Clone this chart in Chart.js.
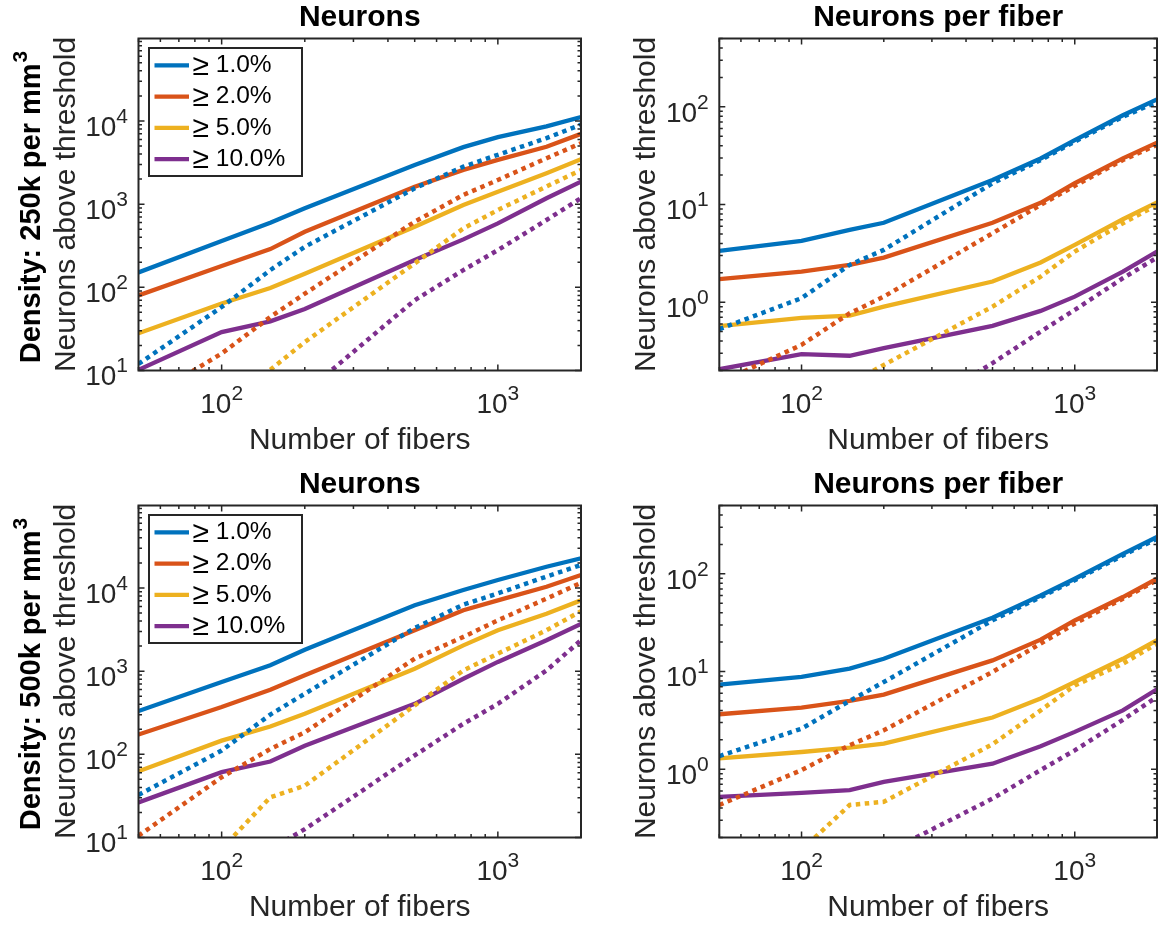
<!DOCTYPE html>
<html>
<head>
<meta charset="utf-8">
<title>Neurons above threshold</title>
<script src="https://cdn.jsdelivr.net/npm/chart.js@4.4.0/dist/chart.umd.min.js"></script>
<style>
  html, body { margin: 0; padding: 0; background: #fff; overflow: hidden; }
  #wrap { position: relative; width: 1160px; height: 926px; }
  #wrap canvas { position: absolute; }
  .density {
    position: absolute;
    transform: translate(-50%, -50%) rotate(-90deg);
    font: bold 29px 'Liberation Sans', Arial, Helvetica, sans-serif;
    line-height: 1;
    white-space: nowrap;
    color: #000;
  }
  .density sup { font-size: 0.72em; position: relative; top: -0.62em; vertical-align: baseline; margin-left: 1px; }
</style>
</head>
<body>
<div id="wrap">
  <canvas id="n250" width="590" height="467" style="left:0;top:0"></canvas>
  <canvas id="pf250" width="570" height="467" style="left:590px;top:0"></canvas>
  <canvas id="n500" width="590" height="459" style="left:0;top:467px"></canvas>
  <canvas id="pf500" width="570" height="459" style="left:590px;top:467px"></canvas>
  <div class="density" style="left:30px;top:207px">Density: 250k per mm<sup>3</sup></div>
  <div class="density" style="left:30px;top:674px">Density: 500k per mm<sup>3</sup></div>
</div>

<script>
const FONT = "'Liberation Sans', Arial, Helvetica, sans-serif";

// --- Data ---
const fibers = [50, 100, 150, 200, 500, 750, 1000, 1500, 2000];
const thresholds = ['\u2265 1.0%', '\u2265 2.0%', '\u2265 5.0%', '\u2265 10.0%'];
const colors = ['#0072BD', '#D95319', '#EDB120', '#7E2F8E'];

// density 250k per mm^3 -- neurons
const neurons250Solid = [
  [151, 360, 598, 890, 2960, 4840, 6400, 8600, 11150],
  [80, 180, 288, 466, 1620, 2580, 3400, 4900, 7000],
  [28, 64, 98, 146, 536, 977, 1410, 2356, 3470],
  [10.2, 29, 39, 55, 213, 377, 587, 1176, 1860]
];
const neurons250Dotted = [
  [12, 58, 161, 307, 1550, 2820, 3920, 6220, 9020],
  [4, 16, 44, 84, 615, 1290, 1950, 3560, 5400],
  [null, null, 10.2, 22, 194, 510, 850, 1630, 2570],
  [null, null, null, 5.4, 70, 161, 280, 645, 1180]
];
// density 250k per mm^3 -- neurons per fiber
const perFiber250Solid = [
  [3.35, 4.24, 5.5, 6.5, 17.8, 29.6, 45.7, 82, 119],
  [1.72, 2.06, 2.41, 2.86, 6.5, 10.4, 16.5, 29.7, 43],
  [0.57, 0.69, 0.73, 0.9, 1.63, 2.55, 3.86, 7.06, 10.5],
  [0.206, 0.294, 0.283, 0.339, 0.573, 0.815, 1.14, 2.06, 3.3]
];
const perFiber250Dotted = [
  [0.53, 1.1, 2.41, 3.43, 16.5, 28.5, 44, 79, 112],
  [0.15, 0.366, 0.77, 1.14, 5.08, 9.9, 15.5, 28.5, 40.7],
  [null, null, 0.146, 0.228, 0.9, 1.83, 3.3, 6.43, 9.9],
  [null, null, null, 0.05, 0.238, 0.5, 0.835, 1.76, 2.86]
];
// density 500k per mm^3 -- neurons
const neurons500Solid = [
  [331, 740, 1175, 1810, 6200, 9440, 12450, 18000, 22700],
  [173, 370, 598, 890, 3100, 5400, 7100, 10350, 14300],
  [62.5, 146, 216, 308, 1070, 2040, 3100, 4900, 7100],
  [26.4, 61, 82, 127, 404, 810, 1290, 2350, 3700]
];
const neurons500Dotted = [
  [32.5, 111, 300, 535, 3300, 6300, 8600, 13700, 18900],
  [10.5, 53, 116, 184, 1410, 2580, 4080, 7450, 11500],
  [null, 7.3, 30.4, 42, 387, 1020, 1620, 3100, 5260],
  [null, null, 7.2, 12.6, 97, 233, 404, 1020, 2350]
];
// density 500k per mm^3 -- neurons per fiber
const perFiber500Solid = [
  [7.34, 8.8, 10.7, 13.5, 35.5, 60, 89, 160, 238],
  [3.65, 4.27, 5.0, 5.8, 13.0, 21.2, 33.3, 57.8, 89],
  [1.29, 1.5, 1.66, 1.83, 3.38, 5.3, 7.8, 13.5, 20.9],
  [0.52, 0.573, 0.61, 0.742, 1.14, 1.72, 2.41, 4.0, 6.58]
];
const perFiber500Dotted = [
  [1.36, 2.6, 5.0, 7.8, 33.4, 57.8, 86, 154, 229],
  [0.43, 0.98, 1.76, 2.5, 9.9, 19.3, 30.9, 55.6, 86],
  [null, 0.149, 0.43, 0.464, 1.8, 4.0, 7.2, 12.0, 19.3],
  [null, null, null, 0.136, 0.5, 0.98, 1.56, 3.2, 5.5]
];

const neuronRange = [10, 98000];
const perFiberRange = [0.2, 500];

// --- MATLAB-like box, inward ticks, 10^n labels and legend ---
function logTickValues(min, max) {
  const out = [];
  for (let e = Math.floor(Math.log10(min)); e <= Math.ceil(Math.log10(max)); e++) {
    for (let k = 1; k <= 9; k++) {
      const v = k * Math.pow(10, e);
      if (v >= min * 0.9999 && v <= max * 1.0001) out.push({ value: v, major: k === 1, exp: e });
    }
  }
  return out;
}

function drawPower(ctx, exp, x, y, align) {
  ctx.font = '28px ' + FONT;
  const w1 = ctx.measureText('10').width;
  ctx.font = '21px ' + FONT;
  const w2 = ctx.measureText(String(exp)).width;
  const x0 = align === 'center' ? x - (w1 + w2) / 2 : x - (w1 + w2);
  ctx.textAlign = 'left';
  ctx.textBaseline = 'middle';
  ctx.font = '28px ' + FONT;
  ctx.fillText('10', x0, y);
  ctx.font = '21px ' + FONT;
  ctx.fillText(String(exp), x0 + w1, y - 10.8);
}

const matlabAxes = {
  id: 'matlabAxes',
  afterDatasetsDraw(chart, args, opts) {
    const { ctx, chartArea: a } = chart;
    const xs = chart.scales.x, ys = chart.scales.y;
    ctx.save();
    ctx.strokeStyle = '#262626';
    ctx.fillStyle = '#262626';

    // tick marks, on all four sides, pointing in
    ctx.lineWidth = 1.5;
    ctx.beginPath();
    logTickValues(xs.min, xs.max).forEach(t => {
      const px = xs.getPixelForValue(t.value);
      const len = t.major ? 6 : 3.5;
      ctx.moveTo(px, a.bottom); ctx.lineTo(px, a.bottom - len);
      ctx.moveTo(px, a.top); ctx.lineTo(px, a.top + len);
    });
    logTickValues(ys.min, ys.max).forEach(t => {
      const py = ys.getPixelForValue(t.value);
      const len = t.major ? 6 : 3.5;
      ctx.moveTo(a.left, py); ctx.lineTo(a.left + len, py);
      ctx.moveTo(a.right, py); ctx.lineTo(a.right - len, py);
    });
    ctx.stroke();

    // box
    ctx.lineWidth = 2;
    ctx.strokeRect(a.left, a.top, a.right - a.left, a.bottom - a.top);

    // decade labels
    logTickValues(xs.min, xs.max).filter(t => t.major).forEach(t => {
      drawPower(ctx, t.exp, xs.getPixelForValue(t.value), a.bottom + 34.5, 'center');
    });
    logTickValues(ys.min, ys.max).filter(t => t.major).forEach(t => {
      const py = ys.getPixelForValue(t.value);
      drawPower(ctx, t.exp, a.left - 10.5, py + 7, 'right');
    });

    // legend box (solid series only)
    if (opts.legend) {
      const lx = a.left + 10.5, ly = a.top + 9.5, lw = 153, lh = 128;
      ctx.fillStyle = '#fff';
      ctx.fillRect(lx, ly, lw, lh);
      ctx.lineWidth = 2;
      ctx.strokeStyle = '#262626';
      ctx.strokeRect(lx, ly, lw, lh);
      chart.data.datasets.filter(d => !d.borderDash).forEach((d, i) => {
        const yy = ly + 17.3 + i * 31.3;
        ctx.strokeStyle = d.borderColor;
        ctx.lineWidth = 4.3;
        ctx.beginPath();
        ctx.moveTo(lx + 5.5, yy);
        ctx.lineTo(lx + 40, yy);
        ctx.stroke();
        // the >= sign is drawn a bit larger, like the TeX glyph
        const sign = d.label.charAt(0);
        const rest = d.label.slice(1);
        ctx.fillStyle = '#000';
        ctx.textAlign = 'left';
        ctx.textBaseline = 'middle';
        ctx.font = '30px ' + FONT;
        ctx.fillText(sign, lx + 43.5, yy + 1);
        const ws = ctx.measureText(sign).width;
        ctx.font = '24.5px ' + FONT;
        ctx.fillText(rest, lx + 43.5 + ws, yy);
      });
    }
    ctx.restore();
  }
};

function buildDatasets(solid, dotted) {
  const sets = [];
  solid.forEach((vals, i) => {
    sets.push({
      label: thresholds[i],
      data: fibers.map((f, k) => ({ x: f, y: vals[k] })),
      borderColor: colors[i],
      borderWidth: 4.3,
      pointRadius: 0,
      clip: 0,
      order: 8 - i
    });
  });
  dotted.forEach((vals, i) => {
    sets.push({
      label: thresholds[i] + ' (dotted)',
      data: fibers.map((f, k) => ({ x: f, y: vals[k] })),
      borderColor: colors[i],
      borderWidth: 4.5,
      borderDash: [4.5, 4.5],
      borderCapStyle: 'butt',
      pointRadius: 0,
      clip: 0,
      order: 4 - i
    });
  });
  return sets;
}

function makePanel(id, cfg) {
  const ctx = document.getElementById(id).getContext('2d');
  return new Chart(ctx, {
    type: 'line',
    data: { datasets: buildDatasets(cfg.solid, cfg.dotted) },
    options: {
      responsive: false,
      animation: false,
      devicePixelRatio: 1,
      layout: { padding: { left: 0, right: cfg.padRight, top: 0, bottom: cfg.padBottom } },
      plugins: {
        legend: { display: false },
        tooltip: { enabled: false },
        title: {
          display: true,
          text: cfg.title,
          fullSize: false,
          color: '#000',
          font: { family: FONT, size: 30, weight: 'bold', lineHeight: 1.2 },
          padding: { top: 0, bottom: 2.5 }
        },
        matlabAxes: { legend: cfg.legend }
      },
      scales: {
        x: {
          type: 'logarithmic',
          min: 50,
          max: 2000,
          position: 'bottom',
          afterFit: s => { s.height = 88.5; },
          ticks: { display: false },
          grid: { display: false },
          border: { display: false },
          title: {
            display: true,
            text: 'Number of fibers',
            color: '#262626',
            font: { family: FONT, size: 30, lineHeight: 1.2 },
            padding: 0
          }
        },
        y: {
          type: 'logarithmic',
          min: cfg.range[0],
          max: cfg.range[1],
          position: 'left',
          afterFit: s => { s.width = cfg.yWidth; },
          ticks: { display: false },
          grid: { display: false },
          border: { display: false },
          title: {
            display: true,
            text: 'Neurons above threshold',
            color: '#262626',
            font: { family: FONT, size: 30, lineHeight: 1.2 },
            padding: { top: cfg.yTitlePad, bottom: 0 }
          }
        }
      }
    },
    plugins: [matlabAxes]
  });
}

document.addEventListener('DOMContentLoaded', () => {
  makePanel('n250', {
    title: 'Neurons', solid: neurons250Solid, dotted: neurons250Dotted, range: neuronRange,
    legend: true, yWidth: 138.5, yTitlePad: 48.6, padRight: 9, padBottom: 8
  });
  makePanel('pf250', {
    title: 'Neurons per fiber', solid: perFiber250Solid, dotted: perFiber250Dotted, range: perFiberRange,
    legend: false, yWidth: 129.3, yTitlePad: 38.6, padRight: 3, padBottom: 8
  });
  makePanel('n500', {
    title: 'Neurons', solid: neurons500Solid, dotted: neurons500Dotted, range: neuronRange,
    legend: true, yWidth: 138.5, yTitlePad: 48.6, padRight: 9, padBottom: 0
  });
  makePanel('pf500', {
    title: 'Neurons per fiber', solid: perFiber500Solid, dotted: perFiber500Dotted, range: perFiberRange,
    legend: false, yWidth: 129.3, yTitlePad: 38.6, padRight: 3, padBottom: 0
  });
});
</script>
</body>
</html>
